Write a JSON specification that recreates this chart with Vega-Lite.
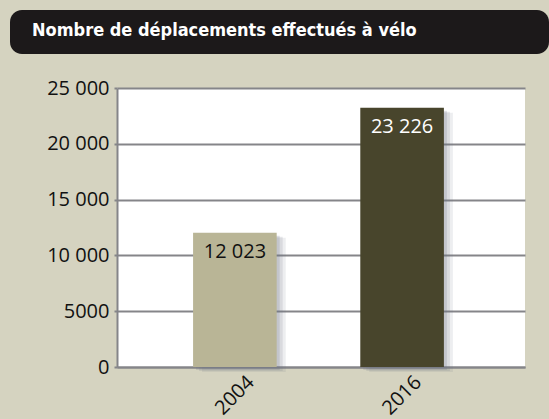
{
  "$schema": "https://vega.github.io/schema/vega-lite/v6.json",
  "background": "#d5d3c0",
  "padding": {"left": 10, "top": 10, "right": 0, "bottom": 4},
  "spacing": 24,
  "config": {
    "view": {"stroke": null},
    "font": "Open Sans"
  },
  "vconcat": [
    {
      "width": 539,
      "height": 44,
      "view": {"fill": "#1c191a", "stroke": null, "cornerRadius": 12},
      "title": {
        "text": "Nombre de déplacements effectués à vélo",
        "anchor": "start",
        "frame": "group",
        "offset": -44,
        "dx": 22,
        "color": "#ffffff",
        "font": "DejaVu Sans Condensed, Liberation Sans Narrow, Roboto, sans-serif",
        "fontSize": 18,
        "fontWeight": "bold",
        "baseline": "alphabetic"
      },
      "data": {"values": [{"k": 1}]},
      "mark": {"type": "point", "opacity": 0},
      "encoding": {}
    },
    {
      "spacing": 0,
      "hconcat": [
        {
          "width": 36,
          "height": 279,
          "view": {"fill": null, "stroke": null},
          "data": {"values": [{"k": 1}]},
          "mark": {"type": "point", "opacity": 0},
          "encoding": {}
        },
        {
          "width": 408,
          "height": 279,
          "view": {"fill": "#ffffff", "stroke": null},
          "data": {
            "values": [
              {"year": "2004", "value": 12023, "label": "12 023"},
              {"year": "2016", "value": 23226, "label": "23 226"}
            ]
          },
          "encoding": {
            "x": {
              "field": "year",
              "type": "nominal",
              "scale": {"paddingInner": 0.5, "paddingOuter": 0.47, "align": 0.484},
              "axis": {
                "title": null,
                "domain": true,
                "domainColor": "#858589",
                "domainWidth": 2,
                "ticks": false,
                "labelAngle": -45,
                "labelAlign": "center",
                "labelBaseline": "middle",
                "labelPadding": 28,
                "labelFontSize": 20,
                "labelColor": "#111111",
                "labelFont": "Open Sans"
              }
            },
            "y": {
              "field": "value",
              "type": "quantitative",
              "scale": {"domain": [0, 25000], "nice": false},
              "axis": {
                "title": null,
                "values": [0, 5000, 10000, 15000, 20000, 25000],
                "labelExpr": "datum.value >= 10000 ? replace(format(datum.value, ','), ',', ' ') : format(datum.value, 'd')",
                "grid": true,
                "gridColor": "#858589",
                "gridWidth": 2,
                "domain": true,
                "domainColor": "#858589",
                "domainWidth": 2,
                "ticks": true,
                "tickColor": "#858589",
                "tickSize": 3,
                "tickWidth": 2,
                "labelPadding": 5,
                "labelFontSize": 20,
                "labelColor": "#111111",
                "labelFont": "Open Sans"
              }
            }
          },
          "layer": [
            {
              "mark": {"type": "bar", "color": "#6f7585", "opacity": 0.12, "xOffset": 9, "yOffset": 5}
            },
            {
              "mark": {"type": "bar", "color": "#6f7585", "opacity": 0.16, "xOffset": 6, "yOffset": 4}
            },
            {
              "mark": {"type": "bar", "color": "#6f7585", "opacity": 0.2, "xOffset": 3, "yOffset": 3}
            },
            {
              "mark": {"type": "bar"},
              "encoding": {
                "color": {
                  "field": "year",
                  "type": "nominal",
                  "scale": {"domain": ["2004", "2016"], "range": ["#b9b596", "#48452c"]},
                  "legend": null
                }
              }
            },
            {
              "mark": {"type": "text", "baseline": "alphabetic", "dy": 25, "fontSize": 20, "font": "Open Sans"},
              "encoding": {
                "text": {"field": "label"},
                "color": {
                  "condition": {"test": "datum.year === '2016'", "value": "#ffffff"},
                  "value": "#111111"
                }
              }
            }
          ]
        }
      ]
    }
  ]
}
